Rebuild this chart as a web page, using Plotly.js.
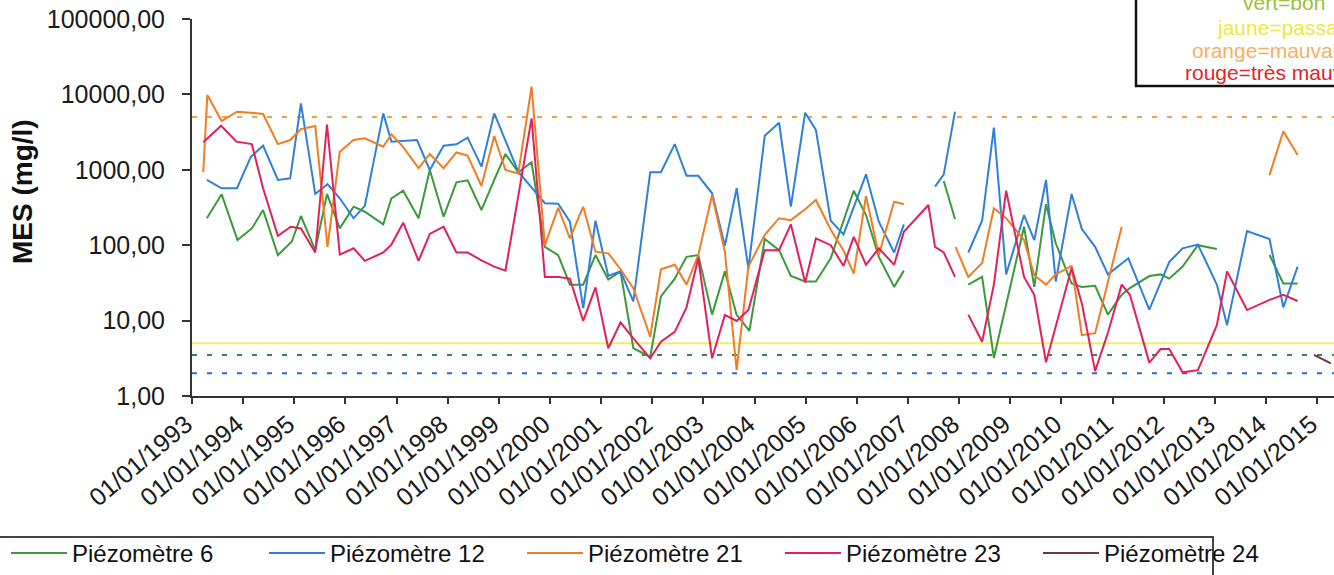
<!DOCTYPE html>
<html>
<head>
<meta charset="utf-8">
<script src="https://cdn.plot.ly/plotly-3.0.1.min.js"></script>
<style>html,body{margin:0;padding:0;background:#fff;}#chart{width:1334px;height:575px;}</style>
</head>
<body>
<div id="chart"></div>
<script>
// ---- Data (decimal years, MES in mg/l) ----
const tickYears = [1993,1994,1995,1996,1997,1998,1999,2000,2001,2002,2003,2004,2005,2006,2007,2008,2009,2010,2011,2012,2013,2014,2015];
const tickLabels = ['01/01/1993','01/01/1994','01/01/1995','01/01/1996','01/01/1997','01/01/1998','01/01/1999','01/01/2000','01/01/2001','01/01/2002','01/01/2003','01/01/2004','01/01/2005','01/01/2006','01/01/2007','01/01/2008','01/01/2009','01/01/2010','01/01/2011','01/01/2012','01/01/2013','01/01/2014','01/01/2015'];
const yTickVals = [1,10,100,1000,10000,100000];
const yTickText = ['1,00','10,00','100,00','1000,00','10000,00','100000,00'];

const p6Dates = [1993.29,1993.58,1993.89,1994.17,1994.39,1994.68,1994.95,1995.13,1995.41,1995.64,1995.89,1996.16,1996.38,1996.74,1996.90,1997.13,1997.43,1997.65,1997.92,1998.17,1998.39,1998.66,1998.91,1999.13,1999.38,1999.64,1999.90,2000.16,2000.39,2000.65,2000.89,2001.14,2001.38,2001.63,2001.96,2002.17,2002.44,2002.67,2002.90,2003.17,2003.42,2003.65,2003.90,2004.20,2004.48,2004.71,2004.99,2005.20,2005.49,2005.94,2006.18,2006.43,2006.73,2006.92,2007.30,2007.70,2007.92,2008.05,2008.18,2008.45,2008.68,2009.27,2009.47,2009.70,2009.89,2010.20,2010.40,2010.66,2010.91,2011.18,2011.34,2011.72,2011.94,2012.11,2012.37,2012.67,2013.04,2013.50,2014.07,2014.34,2014.62];
const p6Values = [228,473,117,167,293,74,111,244,86,478,167,324,278,189,419,528,228,994,239,682,725,293,733,1620,927,1260,95,74,30,30,74,35,45,4.3,3.3,21,36,70,74,12,45,11.9,7.3,121,86,39,33,33,67,528,251,70,28,46,null,710,222,null,30,38,3.2,176,28,350,106,31,28,29,12,22,27,39,41,36,52,100,89,null,74,31,31];

const p12Dates = [1993.29,1993.58,1993.88,1994.15,1994.39,1994.68,1994.92,1995.13,1995.41,1995.65,1995.89,1996.16,1996.38,1996.74,1996.90,1997.13,1997.40,1997.65,1997.92,1998.17,1998.39,1998.66,1998.91,1999.38,1999.90,2000.16,2000.39,2000.65,2000.89,2001.14,2001.38,2001.63,2001.96,2002.17,2002.44,2002.67,2002.90,2003.17,2003.42,2003.65,2003.88,2004.20,2004.48,2004.71,2004.99,2005.20,2005.49,2005.74,2006.18,2006.43,2006.73,2006.92,2007.20,2007.53,2007.70,2007.92,2008.05,2008.18,2008.45,2008.68,2008.92,2009.27,2009.47,2009.70,2009.89,2010.20,2010.40,2010.66,2010.91,2011.31,2011.72,2012.11,2012.37,2012.67,2013.04,2013.24,2013.63,2014.07,2014.34,2014.62];
const p12Values = [733,569,569,1490,2090,733,771,7600,478,646,419,228,333,5600,2360,2400,2480,994,2090,2180,2670,1100,5600,944,360,355,205,14.6,211,39,45,18,927,927,2190,833,833,488,98,569,49,2830,4220,324,5720,3380,211,139,870,205,80,189,null,597,870,5900,null,80,211,3620,41,251,117,733,33,478,164,95,41,67,14,60,91,102,30,8.7,154,121,15,52];

const p21Dates = [1993.22,1993.30,1993.58,1993.88,1994.15,1994.39,1994.68,1994.92,1995.13,1995.41,1995.65,1995.89,1996.16,1996.38,1996.74,1996.90,1997.13,1997.43,1997.65,1997.92,1998.17,1998.39,1998.66,1998.91,1999.13,1999.38,1999.64,1999.90,2000.16,2000.39,2000.65,2000.89,2001.14,2001.38,2001.63,2001.96,2002.17,2002.44,2002.67,2002.90,2003.17,2003.42,2003.65,2003.88,2004.20,2004.48,2004.71,2004.99,2005.20,2005.49,2005.74,2005.94,2006.18,2006.43,2006.73,2006.92,2007.40,2007.93,2008.18,2008.45,2008.68,2008.92,2009.27,2009.47,2009.70,2009.89,2010.20,2010.40,2010.66,2011.18,2012.50,2014.07,2014.34,2014.62];
const p21Values = [927,9800,4440,5900,5700,5500,2190,2480,3470,3800,95,1740,2480,2620,2020,2960,2000,1050,1620,1050,1700,1540,610,2800,994,895,12700,100,314,123,324,82,78,48,27,6.1,48,55,30,74,463,82,2.2,52,137,228,215,300,398,160,85,42,450,74,378,350,null,95,38,58,309,228,117,40,30,41,53,6.4,6.8,176,null,850,3250,1570];

const p23Dates = [1993.22,1993.57,1993.87,1994.17,1994.39,1994.68,1994.93,1995.13,1995.41,1995.64,1995.89,1996.16,1996.38,1996.74,1996.90,1997.13,1997.43,1997.65,1997.92,1998.17,1998.39,1998.66,1998.91,1999.13,1999.64,1999.90,2000.16,2000.39,2000.65,2000.89,2001.14,2001.38,2001.63,2001.96,2002.17,2002.44,2002.67,2002.90,2003.17,2003.42,2003.65,2003.88,2004.20,2004.48,2004.71,2004.99,2005.20,2005.49,2005.74,2005.94,2006.18,2006.43,2006.73,2006.92,2007.40,2007.53,2007.70,2007.92,2008.05,2008.18,2008.45,2008.68,2008.92,2009.27,2009.47,2009.70,2010.20,2010.40,2010.66,2010.91,2011.18,2011.34,2011.72,2011.94,2012.11,2012.37,2012.67,2013.04,2013.24,2013.63,2014.07,2014.34,2014.62];
const p23Values = [2320,3840,2360,2190,569,133,176,167,80,3990,75,91,62,80,102,199,62,141,176,80,80,63,52,46,4820,38,38,36,9.9,27.6,4.3,9.5,5.8,3.16,5.25,7.1,15,67,3.16,11.9,9.9,13.8,86,86,189,32,123,100,53,129,55,91,55,151,341,95,80,38,null,12,5.25,30,528,38,22,2.8,50,17,2.14,6.9,30,22,2.77,4.2,4.2,2.06,2.2,8.7,45,13.8,18.8,22,18.2];

const p24Dates = [2014.94,2015.27];
const p24Values = [3.5,2.7];

// Seuils (threshold lines)
const seuilDates = [1993,2015.4];
const seuilOrange = [5000,5000];
const seuilJaune = [5,5];
const seuilVert = [3.5,3.5];
const seuilBleu = [2,2];

const seriesNames = ['Piézomètre 6','Piézomètre 12','Piézomètre 21','Piézomètre 23','Piézomètre 24'];
const legendNotes = ['vert=bon','jaune=passable','orange=mauvais','rouge=très mauvais'];

// ---- Layout helpers (pixel -> paper) ----
const W = 1334, H = 575, ML = 192, MR = 0, MT = 19, MB = 179;
const PW = W - ML - MR, PH = H - MT - MB;
const px = v => (v - ML) / PW;
const py = v => (H - MB - v) / PH;

const FONT = 'Arial, "Liberation Sans", Helvetica, sans-serif';

function seuil(y, color, dash, width) {
  return {x: seuilDates, y: y, type: 'scatter', mode: 'lines', showlegend: false, hoverinfo: 'skip',
          line: {color: color, dash: dash, width: width}};
}
function serie(x, y, name, color) {
  return {x: x, y: y, name: name, type: 'scatter', mode: 'lines', connectgaps: false,
          line: {color: color, width: 2}};
}

const traces = [
  seuil(seuilOrange, '#f2a24a', '5px,10px', 2),
  seuil(seuilJaune, '#f4ec6a', 'solid', 2),
  seuil(seuilVert, '#2f8a4c', '5px,10px', 2),
  seuil(seuilBleu, '#2e68d6', '5px,10px', 2),
  serie(p6Dates, p6Values, seriesNames[0], '#3b9a3b'),
  serie(p12Dates, p12Values, seriesNames[1], '#2f80dd'),
  serie(p21Dates, p21Values, seriesNames[2], '#f27c22'),
  serie(p23Dates, p23Values, seriesNames[3], '#e2205c'),
  serie(p24Dates, p24Values, seriesNames[4], '#6e3838')
];

const noteColors = ['#9cbf3c','#f2e640','#f6b060','#e4242a'];
const noteX = [1241, 1215, 1190, 1183];
const noteY = [3, 28, 50, 72];
const annotations = legendNotes.map((t, i) => ({
  text: t, xref: 'paper', yref: 'paper', x: px(noteX[i]), y: py(noteY[i]),
  xanchor: 'left', yanchor: 'middle', showarrow: false,
  font: {family: FONT, size: 21, color: noteColors[i]}
}));
annotations.push({
  text: '<b>MES (mg/l)</b>', xref: 'paper', yref: 'paper', x: px(22), y: py(192),
  xanchor: 'center', yanchor: 'middle', textangle: -90, showarrow: false,
  font: {family: FONT, size: 28, color: '#111'}
});

const layout = {
  width: W, height: H,
  margin: {l: ML, r: MR, t: MT, b: MB, pad: 0, autoexpand: false},
  paper_bgcolor: '#fff', plot_bgcolor: '#fff',
  showlegend: true,
  xaxis: {
    range: [1993, 2015.331], showgrid: false, zeroline: false, automargin: false,
    tickmode: 'array', tickvals: tickYears, ticktext: tickLabels, tickangle: -40,
    ticks: 'outside', ticklen: 6, tickwidth: 2, tickcolor: '#333',
    showline: true, linecolor: '#333', linewidth: 2,
    ticklabelstandoff: -4, ticklabelshift: -6,
    tickfont: {family: FONT, size: 25, color: '#1a1a1a'}
  },
  yaxis: {
    type: 'log', range: [0, 5], showgrid: false, zeroline: false, automargin: false,
    tickmode: 'array', tickvals: yTickVals, ticktext: yTickText,
    ticks: 'outside', ticklen: 8, tickwidth: 2, tickcolor: '#333',
    showline: true, linecolor: '#333', linewidth: 2,
    ticklabelstandoff: 12,
    tickfont: {family: FONT, size: 25, color: '#1a1a1a'}
  },
  legend: {
    orientation: 'h', x: px(6), xanchor: 'left', y: py(531), yanchor: 'top',
    font: {family: FONT, size: 24, color: '#111'},
    bgcolor: 'rgba(0,0,0,0)', borderwidth: 0,
    itemwidth: 56, entrywidth: 187, entrywidthmode: 'pixels', traceorder: 'normal'
  },
  shapes: [
    {type: 'rect', xref: 'paper', yref: 'paper', x0: px(1136), x1: px(1400), y0: py(86), y1: py(-20),
     line: {color: '#111', width: 2.5}, fillcolor: '#fff', layer: 'above'},
    {type: 'rect', xref: 'paper', yref: 'paper', x0: px(-10), x1: px(1213), y0: py(537), y1: py(590),
     line: {color: '#444', width: 2}, fillcolor: 'rgba(0,0,0,0)', layer: 'above'}
  ],
  annotations: annotations
};

Plotly.newPlot('chart', traces, layout, {staticPlot: true, displayModeBar: false});
</script>
</body>
</html>
